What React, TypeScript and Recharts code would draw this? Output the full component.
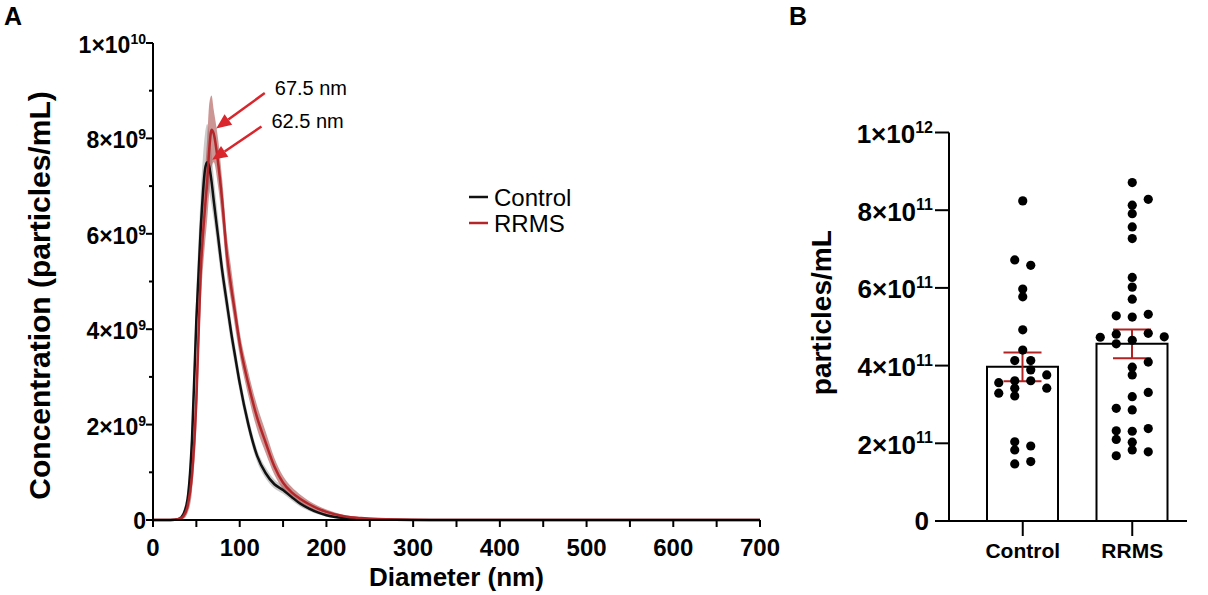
import React from 'react';
import {
  ComposedChart, Line, Area, XAxis, YAxis, Legend, ReferenceLine,
  Bar, ErrorBar, Scatter, Label,
} from 'recharts';

const FONT = 'Liberation Sans, Arial, Helvetica, sans-serif';
const RED_LINE = '#b3262a';
const RED_BAND = '#a8504c';
const GRAY_BAND = '#b9b9b9';
const ARROW = '#d8262c';
const ERR_RED = '#b22222';

// ---------- Panel A: size distribution ----------
const diameters = [0, 20, 30, 35, 40, 45, 50, 55, 60, 62.5, 65, 67.5, 70, 75, 80, 85, 90, 95, 100, 110,
  120, 130, 140, 150, 160, 170, 180, 190, 200, 220, 240, 260, 280, 300, 320, 350, 400, 500, 600, 700];
// values in units of 1e9 particles/mL
const controlMean = [0, 0, 0.02, 0.12, 0.45, 1.7, 4.2, 6.1, 7.35, 7.5, 7.4, 7.1, 6.7, 5.95, 5.2, 4.57, 3.95, 3.4, 2.87, 2.0,
  1.35, 0.98, 0.75, 0.63, 0.48, 0.34, 0.24, 0.16, 0.1, 0.04, 0.02, 0.01, 0.005, 0.002, 0, 0, 0, 0, 0, 0];
const controlLow = [0, 0, 0, 0.05, 0.3, 1.3, 3.6, 5.5, 6.8, 6.95, 6.85, 6.6, 6.3, 5.6, 4.9, 4.3, 3.7, 3.18, 2.68, 1.85,
  1.22, 0.87, 0.66, 0.55, 0.41, 0.28, 0.19, 0.12, 0.07, 0.02, 0.01, 0, 0, 0, 0, 0, 0, 0, 0, 0];
const controlHigh = [0, 0, 0.05, 0.2, 0.65, 2.1, 4.8, 6.8, 8.1, 8.3, 8.1, 7.7, 7.2, 6.35, 5.5, 4.85, 4.2, 3.62, 3.07, 2.17,
  1.48, 1.1, 0.85, 0.72, 0.55, 0.4, 0.29, 0.2, 0.13, 0.06, 0.03, 0.02, 0.01, 0.005, 0, 0, 0, 0, 0, 0];
const rrmsMean = [0, 0, 0.02, 0.08, 0.3, 0.95, 2.5, 5.2, 6.55, 7.1, 7.8, 8.18, 8.1, 7.5, 6.65, 5.6, 4.9, 4.3, 3.7, 2.85,
  2.15, 1.62, 1.12, 0.78, 0.58, 0.44, 0.33, 0.24, 0.17, 0.08, 0.04, 0.02, 0.01, 0.005, 0.002, 0, 0, 0, 0, 0];
const rrmsLow = [0, 0, 0, 0.02, 0.15, 0.6, 1.9, 4.5, 5.8, 6.3, 6.9, 7.4, 7.5, 7.0, 6.2, 5.2, 4.6, 4.0, 3.45, 2.6,
  1.9, 1.4, 0.95, 0.65, 0.47, 0.35, 0.26, 0.18, 0.12, 0.05, 0.02, 0.01, 0, 0, 0, 0, 0, 0, 0, 0];
const rrmsHigh = [0, 0, 0.06, 0.16, 0.5, 1.4, 3.2, 5.9, 7.3, 8.0, 8.75, 8.9, 8.6, 8.0, 7.1, 6.0, 5.3, 4.6, 3.95, 3.1,
  2.4, 1.85, 1.3, 0.92, 0.69, 0.53, 0.4, 0.3, 0.22, 0.11, 0.06, 0.03, 0.02, 0.01, 0.005, 0, 0, 0, 0, 0];

const xTicksA = [0, 50, 100, 150, 200, 250, 300, 350, 400, 450, 500, 550, 600, 650, 700];
const yTicksA = [0, 1e9, 2e9, 3e9, 4e9, 5e9, 6e9, 7e9, 8e9, 9e9, 1e10];

const annotationText = ['67.5 nm', '62.5 nm'];
const annotationFrom = [{ x: 128.9, y: 8.95e9 }, { x: 125.1, y: 8.25e9 }];
const annotationTo = [{ x: 72.9, y: 8.21e9 }, { x: 68.3, y: 7.55e9 }];

// ---------- Panel B: concentration per sample ----------
const groups = ['Control', 'RRMS'];
const groupMeans = [3.97e11, 4.56e11];
const groupSem = [0.37e11, 0.37e11];
// values in units of 1e11 particles/mL; cols = horizontal swarm slot
const controlValues = [8.24, 6.72, 6.58, 5.97, 5.77, 4.92, 4.40, 4.13, 4.13, 3.89, 3.76, 3.61, 3.61, 3.56, 3.42, 3.42,
  3.29, 3.22, 2.04, 1.93, 1.83, 1.53, 1.47];
const controlCols = [0, -0.5, 0.5, 0, 0, 0, 0, -0.5, 0.5, 0.5, 1.5, -0.5, 0.5, -1.5, -0.5, 1.5,
  -1.5, -0.5, -0.5, 0.5, -0.5, 0.5, -0.5];
const rrmsValues = [8.71, 8.28, 8.13, 7.91, 7.57, 7.27, 6.27, 6.02, 5.71, 5.32, 5.28, 5.25, 4.83, 4.81, 4.74, 4.73, 4.65,
  4.56, 4.09, 3.96, 3.76, 3.31, 3.20, 2.90, 2.86, 2.38, 2.32, 2.31, 2.10, 2.03, 1.83, 1.78, 1.68];
const rrmsCols = [0, 1, 0, 0, 0, 0, 0, 0, 0, 1, -1, 0, 1, -1, 2, -2, 0,
  -1, 1, 0, 0, 1, 0, -1, 0, 1, -1, 0, -1, 0, 0, 1, -1];
const yTicksB = [0, 2e11, 4e11, 6e11, 8e11, 1e12];

// ---------- derived tables ----------
const distData = diameters.map((d, i) => ({
  d,
  control: controlMean[i] * 1e9,
  rrms: rrmsMean[i] * 1e9,
  controlBand: [controlLow[i] * 1e9, controlHigh[i] * 1e9],
  rrmsBand: [rrmsLow[i] * 1e9, rrmsHigh[i] * 1e9],
}));
const barData = groups.map((g, i) => ({ group: g, mean: groupMeans[i], sem: groupSem[i] }));
const controlDots = controlValues.map((v, i) => ({ group: groups[0], value: v * 1e11, col: controlCols[i] }));
const rrmsDots = rrmsValues.map((v, i) => ({ group: groups[1], value: v * 1e11, col: rrmsCols[i] }));

const sci = (v: number) => {
  const exp = Math.floor(Math.log10(v) + 1e-9);
  const mant = Math.round(v / Math.pow(10, exp));
  return { mant, exp };
};

// ---------- custom pieces ----------
const TickA = (props: any) => {
  const { x, y, payload } = props;
  const v = payload.value;
  const axisX = x + 7;
  const major = Math.round(v / 1e9) % 2 === 0;
  return (
    <g>
      <line x1={axisX - (major ? 7 : 4)} y1={y} x2={axisX} y2={y} stroke="#000" strokeWidth={2} />
      {major && (v === 0 ? (
        <text x={x} y={y + 8.5} textAnchor="end" fontFamily={FONT} fontWeight={700} fontSize={23} fill="#000">0</text>
      ) : (
        <text x={x} y={y + 10} textAnchor="end" fontFamily={FONT} fontWeight={700} fontSize={23} fill="#000">
          {`${sci(v).mant}×10`}
          <tspan dy={-9} fontSize={14}>{sci(v).exp}</tspan>
        </text>
      ))}
    </g>
  );
};

const TickB = (props: any) => {
  const { x, y, payload } = props;
  const v = payload.value;
  if (v === 0) {
    return <text x={x - 4} y={y + 9} textAnchor="end" fontFamily={FONT} fontWeight={700} fontSize={26} fill="#000">0</text>;
  }
  const { mant, exp } = sci(v);
  return (
    <text x={x} y={y + 10.5} textAnchor="end" fontFamily={FONT} fontWeight={700} fontSize={26} fill="#000">
      {`${mant}×10`}
      <tspan dy={-10.5} fontSize={16}>{exp}</tspan>
    </text>
  );
};

const YTitleA = (props: any) => {
  const { viewBox } = props;
  const cx = viewBox.x + 50;
  const cy = viewBox.y + viewBox.height / 2 + 14;
  return (
    <text x={cx} y={cy} transform={`rotate(-90, ${cx}, ${cy})`} textAnchor="middle"
      fontFamily={FONT} fontWeight={700} fontSize={30} fill="#000">Concentration (particles/mL)</text>
  );
};

const XTitleA = (props: any) => {
  const { viewBox } = props;
  const cx = viewBox.x + viewBox.width / 2;
  return (
    <text x={cx} y={viewBox.y + 66} textAnchor="middle" fontFamily={FONT} fontWeight={700} fontSize={26} fill="#000">
      Diameter (nm)
    </text>
  );
};

const YTitleB = (props: any) => {
  const { viewBox } = props;
  const cx = viewBox.x + 31;
  const cy = viewBox.y + viewBox.height / 2 - 14;
  return (
    <text x={cx} y={cy} transform={`rotate(-90, ${cx}, ${cy})`} textAnchor="middle"
      fontFamily={FONT} fontWeight={700} fontSize={28} fill="#000">particles/mL</text>
  );
};

const makeArrow = (text: string) => (props: any) => {
  const { x1, y1, x2, y2 } = props;
  const dx = x2 - x1;
  const dy = y2 - y1;
  const len = Math.hypot(dx, dy) || 1;
  const ux = dx / len;
  const uy = dy / len;
  const headL = 15;
  const headW = 6.5;
  const bx = x2 - ux * headL;
  const by = y2 - uy * headL;
  const px = -uy;
  const py = ux;
  return (
    <g>
      <line x1={x1} y1={y1} x2={bx} y2={by} stroke={ARROW} strokeWidth={2.5} />
      <polygon points={`${x2},${y2} ${bx + px * headW},${by + py * headW} ${bx - px * headW},${by - py * headW}`} fill={ARROW} />
      <text x={x1 + 10} y={y1 + 2} fontFamily={FONT} fontSize={20} fill="#000">{text}</text>
    </g>
  );
};

const LegendA = (props: any) => {
  const items = (props.payload || []).filter((p: any) => p.type !== 'none');
  return (
    <svg width={150} height={62} style={{ display: 'block' }}>
      {items.map((p: any, i: number) => (
        <g key={p.value}>
          <line x1={9} x2={28} y1={17 + i * 26} y2={17 + i * 26} stroke={p.color} strokeWidth={2.5} />
          <text x={34} y={25.5 + i * 26} fontFamily={FONT} fontSize={24} fill="#000">{p.value}</text>
        </g>
      ))}
    </svg>
  );
};

const SwarmDot = (props: any) => {
  const col = (props.payload && props.payload.col) ?? props.col ?? 0;
  return <circle cx={props.cx + col * 16} cy={props.cy} r={4.6} fill="#000" />;
};

const PanelLetter = ({ letter, left }: { letter: string; left: number }) => (
  <svg width={40} height={40} style={{ position: 'absolute', left, top: 0 }}>
    <text x={4} y={25} fontFamily={FONT} fontWeight={700} fontSize={25} fill="#000">{letter}</text>
  </svg>
);

export default function App() {
  return (
    <div style={{ position: 'absolute', left: 0, top: 0, width: 1208, height: 595, background: '#fff' }}>
      <PanelLetter letter="A" left={0} />
      <PanelLetter letter="B" left={785} />

      <div style={{ position: 'absolute', left: 0, top: 0 }}>
        <ComposedChart width={800} height={595} data={distData} margin={{ top: 43, right: 40, bottom: 0, left: 0 }}>
          <XAxis dataKey="d" type="number" domain={[0, 700]} ticks={xTicksA} interval={0}
            height={75} tickSize={7} tickMargin={12}
            axisLine={{ stroke: '#000', strokeWidth: 2 }} tickLine={{ stroke: '#000', strokeWidth: 2 }}
            tickFormatter={(v: number) => (v % 100 === 0 ? String(v) : '')}
            tick={{ fontFamily: FONT, fontWeight: 700, fontSize: 24, fill: '#000' }}>
            <Label content={<XTitleA />} />
          </XAxis>
          <YAxis type="number" domain={[0, 1e10]} ticks={yTicksA} interval={0} width={153}
            tickSize={7} tickMargin={0} tickLine={false}
            axisLine={{ stroke: '#000', strokeWidth: 2 }} tick={<TickA />}>
            <Label content={<YTitleA />} />
          </YAxis>
          <Area dataKey="controlBand" type="monotone" stroke="none" fill={GRAY_BAND} fillOpacity={0.75}
            isAnimationActive={false} legendType="none" />
          <Area dataKey="rrmsBand" type="monotone" stroke="none" fill={RED_BAND} fillOpacity={0.6}
            isAnimationActive={false} legendType="none" />
          <Line dataKey="control" name="Control" type="monotone" stroke="#111" strokeWidth={2.5}
            dot={false} activeDot={false} isAnimationActive={false} />
          <Line dataKey="rrms" name="RRMS" type="monotone" stroke={RED_LINE} strokeWidth={2.5}
            dot={false} activeDot={false} isAnimationActive={false} />
          {annotationText.map((t, i) => (
            <ReferenceLine key={t} segment={[annotationFrom[i], annotationTo[i]]} stroke={ARROW}
              ifOverflow="visible" shape={makeArrow(t)} />
          ))}
          <Legend layout="vertical" align="center" verticalAlign="middle" content={<LegendA />}
            wrapperStyle={{ position: 'absolute', left: 460, top: 180, width: 150, height: 62 }} />
        </ComposedChart>
      </div>

      <div style={{ position: 'absolute', left: 800, top: 0 }}>
        <ComposedChart width={408} height={595} data={barData} margin={{ top: 132.5, right: 21, bottom: 0, left: 0 }}>
          <XAxis dataKey="group" type="category" allowDuplicatedCategory={false} height={74}
            padding={{ left: 19, right: 0 }} tickSize={15} tickMargin={7}
            axisLine={{ stroke: '#000', strokeWidth: 2 }} tickLine={{ stroke: '#000', strokeWidth: 2 }}
            tick={{ fontFamily: FONT, fontWeight: 700, fontSize: 21, fill: '#000' }} />
          <YAxis type="number" domain={[0, 1e12]} ticks={yTicksB} interval={0} width={149}
            tickSize={14} tickMargin={2}
            axisLine={{ stroke: '#000', strokeWidth: 2 }} tickLine={{ stroke: '#000', strokeWidth: 2 }}
            tick={<TickB />}>
            <Label content={<YTitleB />} />
          </YAxis>
          <Bar dataKey="mean" barSize={71} fill="#fff" stroke="#000" strokeWidth={2} isAnimationActive={false}>
            <ErrorBar dataKey="sem" width={19} stroke={ERR_RED} strokeWidth={2} direction="y" isAnimationActive={false} />
          </Bar>
          <Scatter data={controlDots} dataKey="value" shape={<SwarmDot />} isAnimationActive={false} />
          <Scatter data={rrmsDots} dataKey="value" shape={<SwarmDot />} isAnimationActive={false} />
        </ComposedChart>
      </div>
    </div>
  );
}
